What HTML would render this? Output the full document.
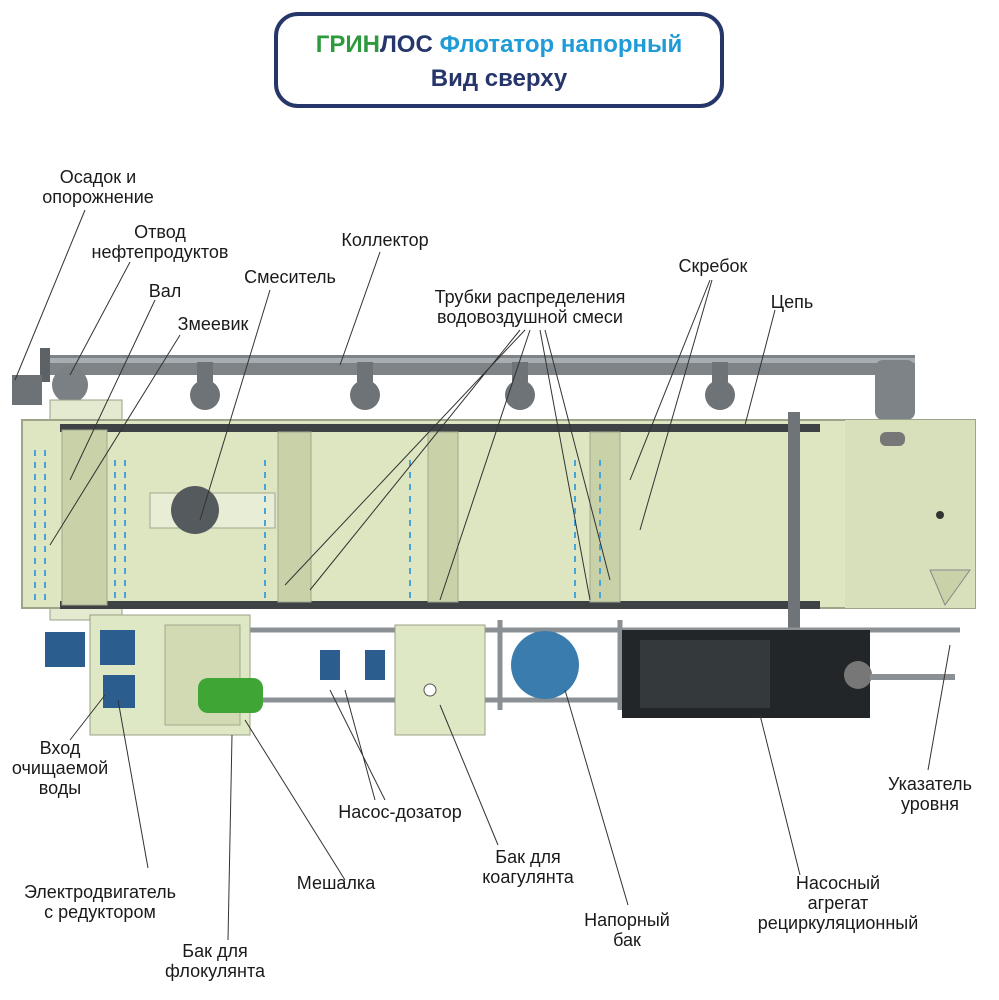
<!DOCTYPE html>
<html><head><meta charset="utf-8"><style>
body{margin:0;background:#fff;width:999px;height:1000px;overflow:hidden}
svg{display:block}
text{font-family:"Liberation Sans",sans-serif;font-size:18px;fill:#1a1a1a}
</style></head><body>
<svg width="999" height="1000" viewBox="0 0 999 1000">
<rect x="276" y="14" width="446" height="92" rx="22" fill="#fff" stroke="#27366a" stroke-width="4"/>
<text x="499" y="52" text-anchor="middle" style="font-size:24px;font-weight:bold"><tspan fill="#2e9a3e">ГРИН</tspan><tspan fill="#27366a">ЛОС</tspan><tspan fill="#1f9bd7"> Флотатор напорный</tspan></text>
<text x="499" y="86" text-anchor="middle" style="font-size:24px;font-weight:bold;fill:#27366a">Вид сверху</text>

<rect x="45" y="355" width="870" height="20" fill="#7d8387"/>
<rect x="45" y="358" width="870" height="5" fill="#a7adb1"/>
<rect x="875" y="360" width="40" height="60" rx="8" fill="#7d8387"/>
<rect x="40" y="348" width="10" height="34" fill="#5d6266"/>
<rect x="12" y="375" width="30" height="30" fill="#6d7276"/>
<circle cx="70" cy="385" r="18" fill="#7b8084"/>
<g fill="#6e7377">
<circle cx="205" cy="395" r="15"/><circle cx="365" cy="395" r="15"/><circle cx="520" cy="395" r="15"/><circle cx="720" cy="395" r="15"/>
<rect x="197" y="362" width="16" height="20"/><rect x="357" y="362" width="16" height="20"/><rect x="512" y="362" width="16" height="20"/><rect x="712" y="362" width="16" height="20"/>
</g>
<rect x="50" y="400" width="72" height="220" fill="#e3ead0" stroke="#9aa08a"/>
<rect x="22" y="420" width="953" height="188" fill="#dde6c0" stroke="#9da48a" stroke-width="2"/>
<rect x="845" y="420" width="130" height="188" fill="#d7e0bb"/>
<rect x="60" y="424" width="760" height="8" fill="#3e4245"/>
<rect x="60" y="601" width="760" height="8" fill="#3e4245"/>
<g fill="#c8d1a8" stroke="#a2a88e">
<rect x="278" y="432" width="33" height="170"/><rect x="428" y="432" width="30" height="170"/><rect x="590" y="432" width="30" height="170"/>
<rect x="62" y="430" width="45" height="175"/>
</g>
<rect x="150" y="493" width="125" height="35" fill="#e8eed6" stroke="#a2a88e"/>
<circle cx="195" cy="510" r="24" fill="#555a5e"/>
<rect x="788" y="412" width="12" height="225" fill="#6f7478"/>
<rect x="880" y="432" width="25" height="14" rx="6" fill="#777"/>
<circle cx="940" cy="515" r="4" fill="#333"/>
<g stroke="#4aa3d8" stroke-width="2" stroke-dasharray="6 6">
<path d="M35 450v150M45 450v150M115 460v140M125 460v140M265 460v140M410 460v140M575 460v140M600 460v140"/>
</g>
<path d="M130 630H960M250 700H620M240 640v80M500 620v90M620 620v90" stroke="#8a9094" stroke-width="5" fill="none"/>
<rect x="90" y="615" width="160" height="120" fill="#dfe8c4" stroke="#999f85"/>
<rect x="165" y="625" width="75" height="100" fill="#d1dab3" stroke="#a2a88e"/>
<rect x="45" y="632" width="40" height="35" fill="#2b5d8e"/>
<rect x="100" y="630" width="35" height="35" fill="#2b5d8e"/>
<rect x="103" y="675" width="32" height="33" fill="#2b5d8e"/>
<rect x="198" y="678" width="65" height="35" rx="10" fill="#3fa535"/>
<rect x="320" y="650" width="20" height="30" fill="#2b5d8e"/><rect x="365" y="650" width="20" height="30" fill="#2b5d8e"/>
<rect x="395" y="625" width="90" height="110" fill="#dfe8c4" stroke="#999f85"/>
<circle cx="430" cy="690" r="6" fill="#fff" stroke="#555"/>
<circle cx="545" cy="665" r="34" fill="#3a7cae"/>
<rect x="622" y="630" width="248" height="88" fill="#222628"/>
<rect x="640" y="640" width="130" height="68" fill="#34393c"/>
<circle cx="858" cy="675" r="14" fill="#777"/>
<path d="M870 677H955" stroke="#8a9094" stroke-width="6"/>
<path d="M930 570L970 570L945 605Z" fill="#c8d1a8" stroke="#888"/>
<g stroke="#333" stroke-width="1" fill="none">
<path d="M85 210L15 380M130 262L70 375M155 300L70 480M180 335L50 545M270 290L200 520M380 252L340 365M520 330L310 590M525 330L285 585M530 330L440 600M540 330L590 600M545 330L610 580M710 280L630 480M712 280L640 530M775 310L745 425M70 740L105 695M148 868L118 700M228 940L232 735M345 880L245 720M375 800L345 690M385 800L330 690M498 845L440 705M628 905L565 690M800 875L760 715M928 770L950 645"/>
</g>
<g text-anchor="middle">
<text x="98" y="183">Осадок и</text><text x="98" y="203">опорожнение</text>
<text x="160" y="238">Отвод</text><text x="160" y="258">нефтепродуктов</text>
<text x="165" y="297">Вал</text>
<text x="213" y="330">Змеевик</text>
<text x="290" y="283">Смеситель</text>
<text x="385" y="246">Коллектор</text>
<text x="530" y="303">Трубки распределения</text><text x="530" y="323">водовоздушной смеси</text>
<text x="713" y="272">Скребок</text>
<text x="792" y="308">Цепь</text>
<text x="60" y="754">Вход</text><text x="60" y="774">очищаемой</text><text x="60" y="794">воды</text>
<text x="400" y="818">Насос-дозатор</text>
<text x="528" y="863">Бак для</text><text x="528" y="883">коагулянта</text>
<text x="336" y="889">Мешалка</text>
<text x="100" y="898">Электродвигатель</text><text x="100" y="918">с редуктором</text>
<text x="215" y="957">Бак для</text><text x="215" y="977">флокулянта</text>
<text x="627" y="926">Напорный</text><text x="627" y="946">бак</text>
<text x="838" y="889">Насосный</text><text x="838" y="909">агрегат</text><text x="838" y="929">рециркуляционный</text>
<text x="930" y="790">Указатель</text><text x="930" y="810">уровня</text>
</g>
</svg>
</body></html>
